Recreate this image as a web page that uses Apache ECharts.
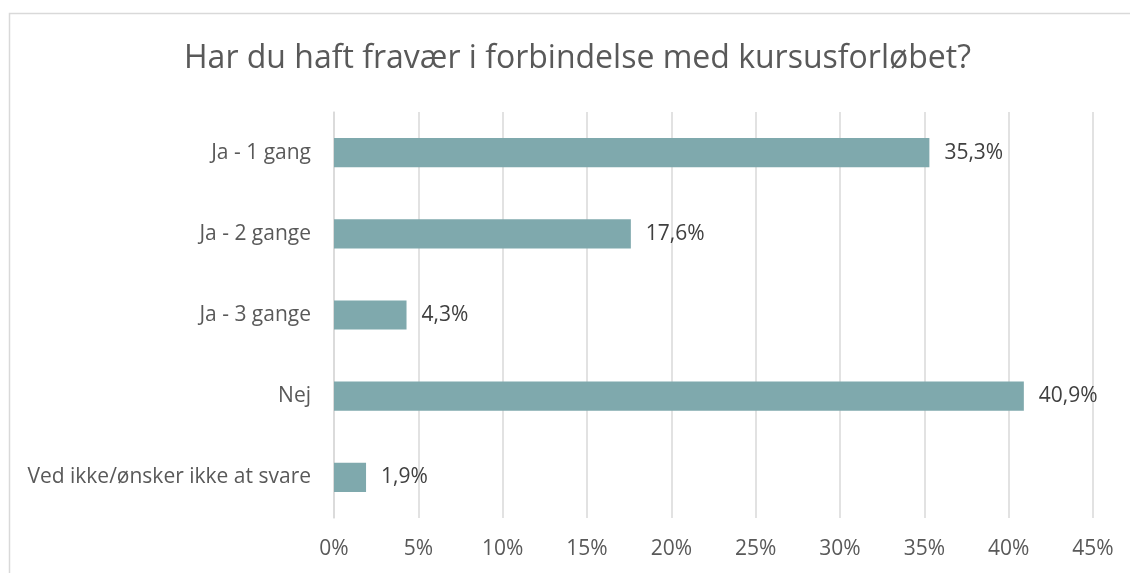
<!DOCTYPE html>
<html>
<head>
<meta charset="utf-8">
<script src="https://cdn.jsdelivr.net/npm/echarts@6/dist/echarts.min.js"></script>
<style>
  html, body { margin: 0; padding: 0; background: #fff; }
  #chart { width: 1130px; height: 573px; }
</style>
</head>
<body>
<div id="chart"></div>
<script>
// Survey answers, top to bottom
const categories = ['Ja - 1 gang', 'Ja - 2 gange', 'Ja - 3 gange', 'Nej', 'Ved ikke/ønsker ikke at svare'];
const shares = [35.3, 17.6, 4.3, 40.9, 1.9];
const xTicks = [0, 5, 10, 15, 20, 25, 30, 35, 40, 45];

const FONT = '"Open Sans", sans-serif';
const chart = echarts.init(document.getElementById('chart'), null, { renderer: 'canvas' });

chart.setOption({
  animation: false,
  backgroundColor: '#fff',
  graphic: [{
    // chart frame, running off the right and bottom edges
    type: 'rect',
    shape: { x: 9.5, y: 13.5, width: 1200, height: 600 },
    style: { fill: 'none', stroke: '#D9D9D9', lineWidth: 1.5 },
    silent: true
  }],
  title: {
    text: 'Har du haft fravær i forbindelse med kursusforløbet?',
    left: 179,
    top: 38,
    textStyle: { fontFamily: FONT, fontSize: 32, fontWeight: 'normal', color: '#595959' }
  },
  grid: { left: 334, right: 37, top: 112, bottom: 55, containLabel: false },
  xAxis: {
    type: 'value',
    min: xTicks[0],
    max: xTicks[xTicks.length - 1],
    interval: 5,
    axisLine: { show: false },
    axisTick: { show: false },
    splitLine: { show: true, lineStyle: { color: '#D9D9D9', width: 1.5 } },
    axisLabel: {
      margin: 21,
      formatter: v => v + '%',
      fontFamily: FONT, fontSize: 21, color: '#595959'
    }
  },
  yAxis: {
    type: 'category',
    data: categories,
    inverse: true,
    axisLine: { show: true, lineStyle: { color: '#D9D9D9', width: 1.5 } },
    axisTick: { show: false },
    axisLabel: { margin: 23, fontFamily: FONT, fontSize: 21, color: '#595959' }
  },
  series: [{
    type: 'bar',
    data: shares,
    barCategoryGap: '64%',
    itemStyle: { color: '#7FA9AD' },
    label: {
      show: true,
      position: 'right',
      distance: 15,
      formatter: p => p.value.toFixed(1).replace('.', ',') + '%',
      fontFamily: FONT, fontSize: 21, color: '#404040'
    }
  }]
});
</script>
</body>
</html>
